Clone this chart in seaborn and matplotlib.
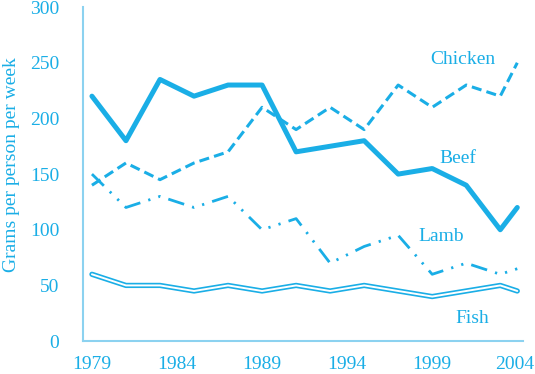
import numpy as np
import pandas as pd
import seaborn as sns
from matplotlib import pyplot as plt
from matplotlib import transforms

# values (grams per person per week)
years = [1979, 1981, 1983, 1985, 1987, 1989, 1991, 1993, 1995, 1997, 1999, 2001, 2003, 2004]
beef = [220, 180, 235, 220, 230, 230, 170, 175, 180, 150, 155, 140, 100, 120]
chicken = [140, 160, 145, 160, 170, 210, 190, 210, 190, 230, 210, 230, 220, 250]
lamb = [150, 120, 130, 120, 130, 100, 110, 70, 85, 95, 60, 70, 60, 65]
fish = [60, 50, 50, 45, 50, 45, 50, 45, 50, 45, 40, 45, 50, 45]
tick_years = [1979, 1984, 1989, 1994, 1999, 2004]

blue = '#1AAEE6'
axis_blue = '#8CD2F0'

sns.set_theme(style='white')
plt.rcParams['font.family'] = ['Liberation Serif', 'DejaVu Serif']

fig = plt.figure(figsize=(5.35, 3.74), dpi=100)
ax = fig.add_axes([0.155, 0.088, 0.823, 0.893])

sns.lineplot(x=years, y=beef, ax=ax, color=blue, lw=3.6)
sns.lineplot(x=years, y=chicken, ax=ax, color=blue, lw=2.2)
ax.lines[-1].set_dashes((3.3, 1.7))
sns.lineplot(x=years, y=lamb, ax=ax, color=blue, lw=2.0)
ax.lines[-1].set_dashes((6, 3, 0.8, 3, 0.8, 3))
# fish is a double line: thick blue with a thin white core
sns.lineplot(x=years, y=fish, ax=ax, color=blue, lw=3.8)
sns.lineplot(x=years, y=fish, ax=ax, color='white', lw=1.4)

ax.set_xlim(1978.47, 2004.35)
ax.set_ylim(0, 300)
ax.set_yticks([0, 50, 100, 150, 200, 250, 300])
ax.set_xticks(tick_years)
ax.set_xticklabels([str(y) for y in tick_years])

for s in ['top', 'right']:
    ax.spines[s].set_visible(False)
for s in ['left', 'bottom']:
    ax.spines[s].set_color(axis_blue)
    ax.spines[s].set_linewidth(1.5)

ax.tick_params(axis='y', length=0, pad=17, labelsize=14, labelcolor=blue)
ax.tick_params(axis='x', length=0, pad=11, labelsize=14, labelcolor=blue)
# keep the last year label inside the picture
last = ax.get_xticklabels()[-1]
last.set_transform(last.get_transform() + transforms.ScaledTranslation(-0.03, 0, fig.dpi_scale_trans))

ax.set_ylabel('Grams per person per week', fontsize=14, color=blue)
ax.yaxis.set_label_coords(-0.143, 0.53)
ax.set_xlabel('')

ax.text(2000.8, 253, 'Chicken', fontsize=14, color=blue, ha='center', va='center')
ax.text(2000.5, 164, 'Beef', fontsize=14, color=blue, ha='center', va='center')
ax.text(1999.5, 94, 'Lamb', fontsize=14, color=blue, ha='center', va='center')
ax.text(2001.35, 20, 'Fish', fontsize=14, color=blue, ha='center', va='center')

plt.savefig('out.png', dpi=100)
